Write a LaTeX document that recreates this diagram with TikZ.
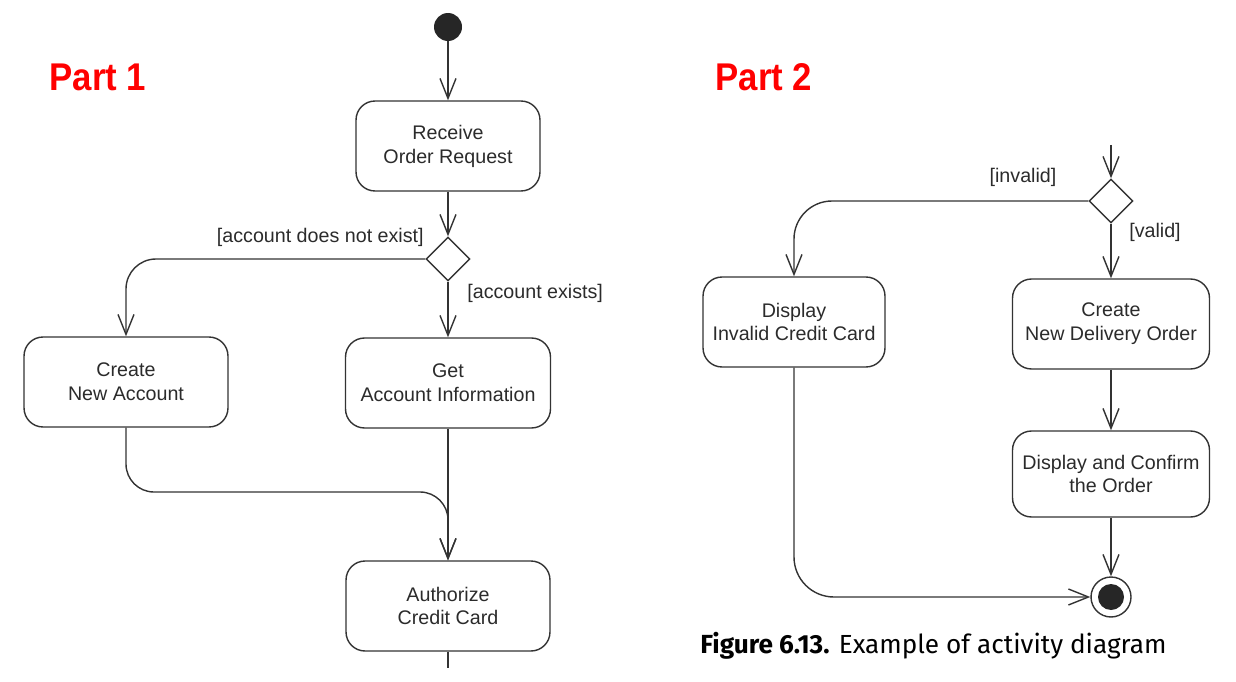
\documentclass[tikz,border=0pt]{standalone}
\usepackage{fontspec}
\setmainfont{Liberation Sans}
\newfontfamily\captionfont{Fira Sans}
\usetikzlibrary{arrows.meta,shapes.geometric}

\definecolor{linegray}{HTML}{333333}
\definecolor{textgray}{HTML}{2B2B2B}
\definecolor{partred}{HTML}{FF0000}

\tikzset{
    action/.style = {
        draw=linegray,
        line width=0.8pt,
        rounded corners=0.38cm,
        align=center,
        text=textgray,
        font=\fontsize{11.2}{13.6}\selectfont,
        minimum width=#1,
        minimum height=1.8cm
    },
    action/.default = 4.08cm,
    decision/.style = {
        draw=linegray,
        line width=0.8pt,
        diamond,
        aspect=1,
        inner sep=0pt,
        minimum width=0.88cm,
        minimum height=0.88cm
    },
    initial/.style = {
        circle,
        fill=black!85,
        inner sep=0pt,
        minimum size=0.56cm
    },
    final/.style = {
        circle,
        draw=linegray,
        line width=0.8pt,
        inner sep=0pt,
        minimum size=0.8cm
    },
    flow/.style = {
        draw=linegray,
        line width=0.8pt,
        -{Straight Barb[length=0.4cm,width=0.32cm]}
    },
    plain/.style = {
        draw=linegray,
        line width=0.8pt
    },
    guard/.style = {
        inner sep=0pt,
        text=textgray,
        font=\fontsize{11.2}{13.6}\selectfont
    },
    part/.style = {
        text=partred,
        font=\fontsize{22}{22}\selectfont\bfseries
    }
}

\begin{document}
\begin{tikzpicture}[x=0.02cm, y=-0.02cm]
    \useasboundingbox (0,0) rectangle (1236,682);

    % Headings
    \node[part] (part1) at (98,77) {\scalebox{0.9}[1]{Part 1}};
    \node[part] (part2) at (764,77) {\scalebox{0.9}[1]{Part 2}};

    % Part 1 nodes
    \node[initial] (init) at (448,27) {};
    \node[action=3.68cm] (receive) at (448,146) {Receive\\Order Request};
    \node[decision] (dec1) at (448,259) {};
    \node[action] (newacc) at (126,382) {Create\\New Account};
    \node[action=4.1cm] (getacc) at (448,383) {Get\\Account Information};
    \node[action] (auth) at (448,606) {Authorize\\Credit Card};
    \coordinate (merge) at (448,492);
    \coordinate (tail) at (448,668);

    \node[guard, anchor=east] (gnoacc) at (424,237) {[account does not exist]};
    \node[guard, anchor=west] (gacc) at (467,293) {[account exists]};

    % Part 1 flows
    \draw[flow] (init) -- (receive);
    \draw[flow] (receive) -- (dec1);
    \draw[flow, rounded corners=0.6cm] (dec1.west) -| (newacc.north);
    \draw[flow] (dec1.south) -- (getacc.north);
    \draw[flow] (getacc) -- (auth);
    \draw[flow, rounded corners=0.56cm] (newacc.south) |- (merge) -- (auth.north);
    \draw[plain] (auth) -- (tail);

    % Part 2 nodes
    \coordinate (entry) at (1111,145);
    \node[decision] (dec2) at (1111,201) {};
    \node[action=3.64cm] (invalid) at (794,322) {Display\\Invalid Credit Card};
    \node[action=3.94cm] (delivery) at (1111,324) {Create\\New Delivery Order};
    \node[action=3.94cm, minimum height=1.72cm] (confirm) at (1111,474) {Display and Confirm\\the Order};
    \node[final] (final) at (1111,597) {};
    \fill[black!85] (final) circle (0.26cm);

    \node[guard] (ginvalid) at (1023,177) {[invalid]};
    \node[guard] (gvalid) at (1155,232) {[valid]};

    % Part 2 flows
    \draw[flow] (entry) -- (dec2);
    \draw[flow, rounded corners=0.76cm] (dec2.west) -| (invalid.north);
    \draw[flow] (dec2) -- (delivery);
    \draw[flow] (delivery) -- (confirm);
    \draw[flow] (confirm) -- (final);
    \draw[flow, rounded corners=0.8cm] (invalid.south) |- (final.west);

    % Caption
    \node[anchor=west, inner sep=0pt, text=black, font=\captionfont\fontsize{14.9}{16}\selectfont]
        (caption) at (700,646) {\textbf{Figure 6.13.} Example of activity diagram};
\end{tikzpicture}
\end{document}
